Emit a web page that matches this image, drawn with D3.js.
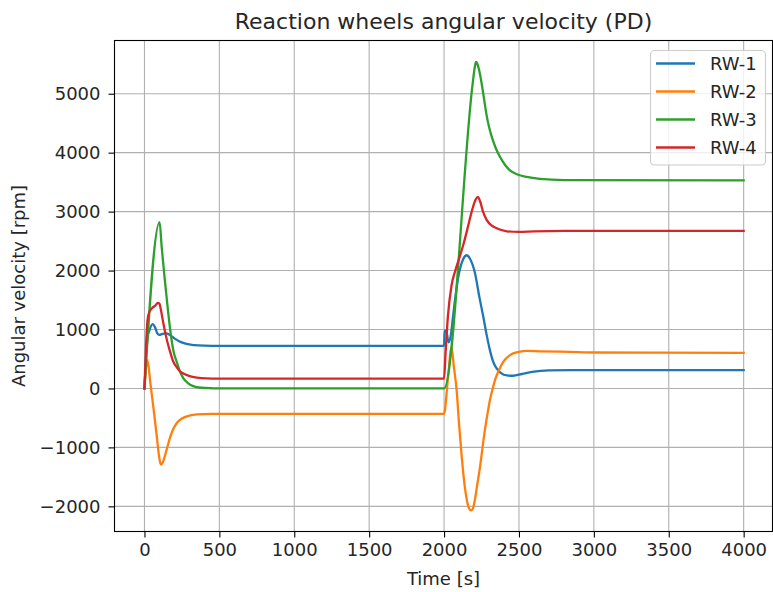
<!DOCTYPE html>
<html><head><meta charset="utf-8">
<script src="https://cdn.jsdelivr.net/npm/d3@7"></script>
<style>
body{margin:0;background:#fff;}
svg text{font-family:"DejaVu Sans",sans-serif;fill:#262626;}
</style></head>
<body><svg id="c" width="773" height="592"></svg>
<script>
const title = "Reaction wheels angular velocity (PD)";
const xLabel = "Time [s]";
const yLabel = "Angular velocity [rpm]";
const xTicks = [0,500,1000,1500,2000,2500,3000,3500,4000];
const yTicks = [-2000,-1000,0,1000,2000,3000,4000,5000];
const seriesNames = ["RW-1","RW-2","RW-3","RW-4"];
const seriesColors = ["#1f77b4","#ff7f0e","#2ca02c","#d62728"];

// RW-1 samples: time [s], angular velocity [rpm]
const rw1T = [0,10,20,35,55,70,85,100,120,145,170,200,240,280,330,400,500,2000,2004,2015,2030,2045,2062,2095,2129,2151,2173,2207,2235,2262,2285,2306,2330,2351,2380,2420,2460,2520,2600,2700,2850,4000];
const rw1V = [0,500,850,1000,1090,1040,940,910,925,935,905,850,790,755,735,725,722,722,980,980,780,900,1270,1890,2200,2260,2200,1950,1560,1215,900,650,440,340,260,220,215,245,285,305,312,310];

// RW-2
const rw2T = [0,20,40,60,80,95,105,112,120,130,150,170,190,215,250,300,350,450,2000,2025,2050,2065,2084,2100,2118,2140,2155,2168,2180,2192,2205,2220,2240,2257,2273,2290,2306,2323,2340,2370,2395,2440,2500,2551,2650,2840,3000,4000];
const rw2V = [0,480,80,-330,-760,-1100,-1260,-1290,-1270,-1200,-1020,-840,-700,-590,-510,-460,-440,-432,-430,140,700,380,-30,-600,-1160,-1700,-1930,-2040,-2070,-2040,-1900,-1660,-1330,-1000,-700,-430,-200,-20,140,330,450,565,620,638,630,620,610,605];

// RW-3
const rw3T = [0,101,115,134,157,179,195,213,235,258,290,325,380,450,500,2000,2190,2205,2213,2222,2240,2255,2270,2285,2300,2317,2345,2373,2405,2440,2490,2551,2640,2800,4000];
const rw3V = [0,2820,2400,1890,1320,860,620,470,300,180,90,40,12,3,0,0,5150,5450,5540,5510,5330,5110,4860,4620,4440,4280,4080,3930,3800,3700,3630,3588,3555,3535,3530];

// RW-4
const rw4T = [0,10,20,30,50,70,90,100,110,123,140,157,175,190,215,235,270,302,350,414,500,2000,2010,2025,2050,2075,2100,2130,2160,2190,2210,2225,2240,2260,2284,2320,2351,2420,2500,2600,2800,4000];
const rw4V = [0,700,1150,1280,1360,1400,1450,1440,1330,1150,930,750,590,470,360,295,240,210,185,170,165,165,600,1200,1750,2000,2200,2450,2750,3050,3200,3250,3180,3000,2860,2760,2718,2665,2655,2665,2672,2672];

const seriesT = [rw1T,rw2T,rw3T,rw4T];
const seriesV = [rw1V,rw2V,rw3V,rw4V];

const FS = 18, TFS = 22;
const svg = d3.select("#c");
const L=114.5, R=772.5, T=40.5, B=531.5;
const x = d3.scaleLinear().domain([-200,4200]).range([L, L+(4200+200)*((743.8-144.6)/4000)]);
const y = d3.scaleLinear().domain([-2427,5903]).range([B,T]);

// grid
const g = svg.append("g");
g.selectAll(".gx").data(xTicks).enter().append("line")
 .attr("x1",d=>x(d)).attr("x2",d=>x(d)).attr("y1",T).attr("y2",B)
 .attr("stroke","#b0b0b0").attr("stroke-width",1.1);
g.selectAll(".gy").data(yTicks).enter().append("line")
 .attr("x1",L).attr("x2",R).attr("y1",d=>y(d)).attr("y2",d=>y(d))
 .attr("stroke","#b0b0b0").attr("stroke-width",1.1);

// clip
svg.append("clipPath").attr("id","clip").append("rect").attr("x",L).attr("y",T).attr("width",R-L).attr("height",B-T);

const line = d3.line().x(d=>x(d[0])).y(d=>y(d[1])).curve(d3.curveMonotoneX);
seriesT.forEach((ts,i)=>{
  const pts = ts.map((t,j)=>[t, seriesV[i][j]]);
  svg.append("path").datum(pts).attr("d",line).attr("fill","none")
   .attr("stroke",seriesColors[i]).attr("stroke-width",2.3).attr("stroke-linejoin","round").attr("stroke-linecap","square")
   .attr("clip-path","url(#clip)");
});

// axes
const xAxis = d3.axisBottom(x).tickValues(xTicks).tickSizeOuter(0).tickSize(6).tickPadding(6).tickFormat(d3.format("d"));
const ya = d3.axisLeft(y).tickValues(yTicks).tickSizeOuter(0).tickSize(6).tickPadding(8).tickFormat(d=>d<0?"\u2212"+Math.abs(d):""+d);
const gx = svg.append("g").attr("transform",`translate(0,${B})`).call(xAxis);
const gy = svg.append("g").attr("transform",`translate(${L},0)`).call(ya);
[gx,gy].forEach(a=>{
  a.select(".domain").remove();
  a.selectAll("line").attr("stroke","#000").attr("stroke-width",1.1);
  a.selectAll("text").attr("font-size",FS+"px").attr("font-family","DejaVu Sans").attr("fill","#262626");
});

// spines
svg.append("rect").attr("x",L).attr("y",T).attr("width",R-L).attr("height",B-T)
 .attr("fill","none").attr("stroke","#000").attr("stroke-width",1.1);

// labels
svg.append("text").attr("x",443.5).attr("y",28.5).attr("text-anchor","middle").attr("font-size",TFS+"px").text(title);
svg.append("text").attr("x",443.5).attr("y",585).attr("text-anchor","middle").attr("font-size",FS+"px").text(xLabel);
svg.append("text").attr("transform",`translate(25,${(T+B)/2}) rotate(-90)`).attr("text-anchor","middle").attr("font-size",FS+"px").text(yLabel);

// legend
const lg = svg.append("g");
lg.append("rect").attr("x",650.5).attr("y",50.5).attr("width",115).attr("height",114.5).attr("rx",4)
 .attr("fill","#fff").attr("fill-opacity",0.8).attr("stroke","#cccccc").attr("stroke-width",1.1);
seriesNames.forEach((n,i)=>{
  const yy = 63.5 + i*28;
  lg.append("line").attr("x1",656).attr("x2",695).attr("y1",yy).attr("y2",yy).attr("stroke",seriesColors[i]).attr("stroke-width",2.3);
  lg.append("text").attr("x",710).attr("y",yy+6.4).attr("font-size",FS+"px").text(n);
});
</script></body></html>
